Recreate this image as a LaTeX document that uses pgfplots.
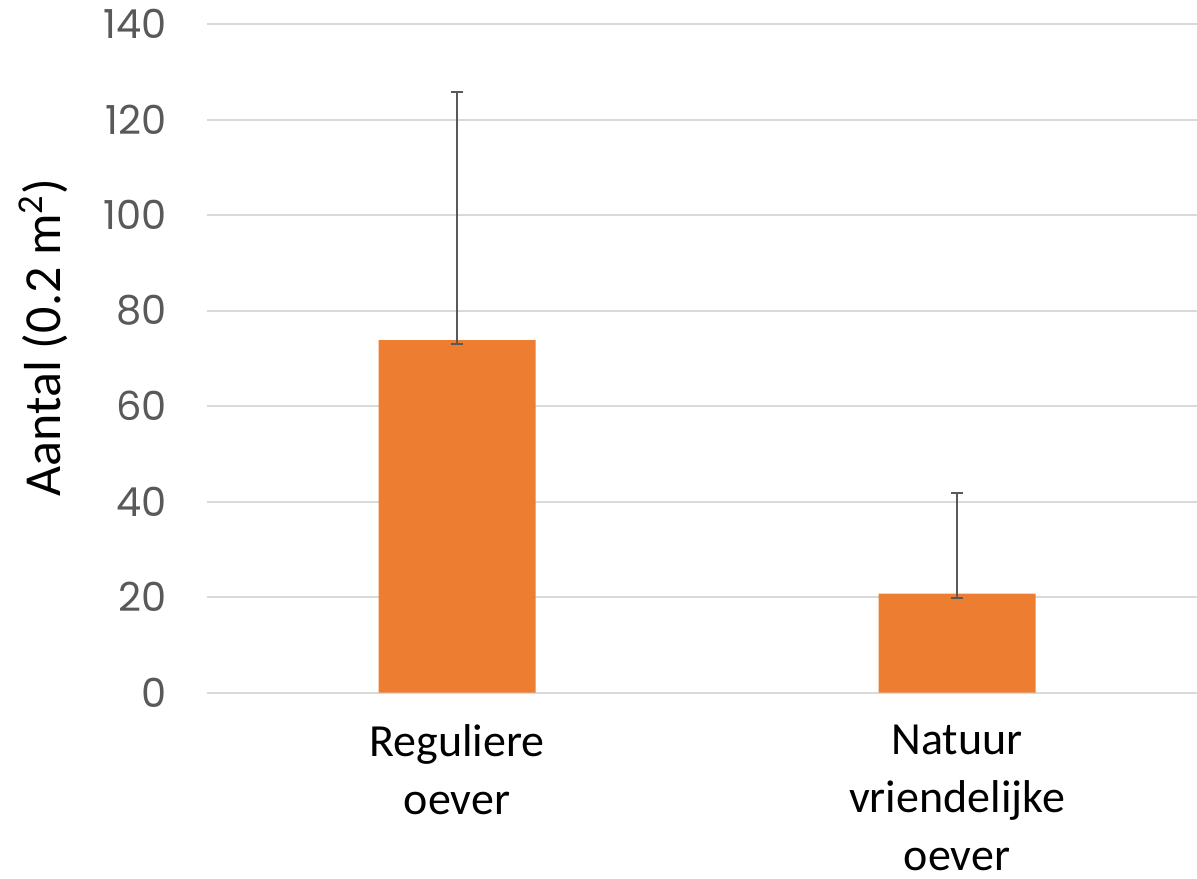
\documentclass[border=0pt]{standalone}
\usepackage{fontspec}
\setmainfont{Carlito}
\newfontfamily\tickfont{Poppins}
\usepackage{pgfplots}
\pgfplotsset{compat=1.18}
\definecolor{barorange}{HTML}{ED7D31}
\definecolor{gridgray}{HTML}{D9D9D9}
\definecolor{tickgray}{HTML}{595959}
\begin{document}
\begin{tikzpicture}
\begin{axis}[
  scale only axis,
  width=500pt, height=334.3pt,
  xmin=-0.5, xmax=1.5,
  ymin=0, ymax=140,
  ytick={0,20,...,140},
  xtick={0,1},
  xticklabels={Reguliere\\oever, Natuur\\vriendelijke\\oever},
  axis line style={draw=none},
  tick style={draw=none},
  ymajorgrids,
  grid style={gridgray, line width=1pt},
  /pgf/number format/assume math mode=true,
  yticklabel style={font=\tickfont\fontsize{20}{22}\selectfont, text=tickgray, inner sep=0pt, xshift=-20pt},
  xticklabel style={font=\fontsize{23}{29}\selectfont, text=black, align=center, anchor=north, inner sep=0pt, yshift=-16pt},
  ylabel={Aantal (0.2 m\textsuperscript{2})},
  ylabel style={font=\fontsize{26}{30}\selectfont, at={(axis description cs:0,0.531)}, anchor=center, yshift=82pt},
  clip=false,
]
\addplot[ybar, bar width=78.5pt, fill=barorange, draw=none,
  error bars/.cd, y dir=both, y explicit,
  error bar style={tickgray, line width=1pt},
  error mark options={rotate=90, mark size=3pt, tickgray, line width=1pt}]
  coordinates {
    (0,73.8) += (0,51.9) -= (0,0.9)
    (1,20.7) += (0,21.0) -= (0,0.9)
  };
\end{axis}
\pgfresetboundingbox
\path (current axis.south west) ++(-103.5pt,-92.7pt) coordinate (bbA);
\path (current axis.south west) ++(495pt,346.3pt) coordinate (bbB);
\useasboundingbox (bbA) rectangle (bbB);
\end{tikzpicture}
\end{document}
